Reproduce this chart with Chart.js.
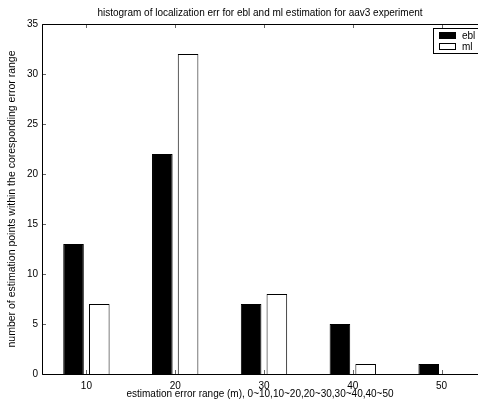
<!DOCTYPE html>
<html>
<head>
<meta charset="utf-8">
<script src="https://cdn.jsdelivr.net/npm/chart.js@4"></script>
<style>
  body { margin: 0; overflow: hidden; background: #fff; }
</style>
</head>
<body>
<canvas id="histChart" width="478" height="400"></canvas>
<script>
const errorRanges = [10, 20, 30, 40, 50];
const eblCounts = [13, 22, 7, 5, 1];
const mlCounts = [7, 32, 8, 1, 0];
const yTicks = [0, 5, 10, 15, 20, 25, 30, 35];
// x limits: the plot starts at 5, its right part is cut off by the window
const xMin = 5;
const xMax = 54.1;

const FONT = "'Liberation Sans', Arial, sans-serif";

// matlab style axes lines, inward ticks and legend
const axesBox = {
  id: "axesBox",
  afterDatasetsDraw(chart) {
    const { ctx, chartArea: a, scales } = chart;
    ctx.save();
    ctx.strokeStyle = "#666";
    ctx.lineWidth = 1;
    ctx.beginPath();
    errorRanges.forEach(v => {
      const x = Math.round(scales.x.getPixelForValue(v)) + 0.5;
      ctx.moveTo(x, a.bottom);
      ctx.lineTo(x, a.bottom - 4);
      ctx.moveTo(x, a.top);
      ctx.lineTo(x, a.top + 4);
    });
    yTicks.forEach(v => {
      const y = Math.round(scales.y.getPixelForValue(v)) + 0.5;
      ctx.moveTo(a.left, y);
      ctx.lineTo(a.left + 4, y);
    });
    ctx.stroke();

    ctx.strokeStyle = "#000";
    ctx.beginPath();
    ctx.moveTo(a.right + 10, a.top + 0.5);
    ctx.lineTo(a.left + 0.5, a.top + 0.5);
    ctx.lineTo(a.left + 0.5, a.bottom + 0.5);
    ctx.lineTo(a.right + 10, a.bottom + 0.5);
    ctx.stroke();

    // legend
    const lx = 433, ly = 28;
    ctx.fillStyle = "#fff";
    ctx.fillRect(lx + 0.5, ly + 0.5, 60, 25);
    ctx.strokeRect(lx + 0.5, ly + 0.5, 60, 25);
    ctx.fillStyle = "#000";
    ctx.fillRect(439, 32, 17, 7);
    ctx.strokeRect(439.5, 43.5, 16, 6);
    ctx.font = "10px " + FONT;
    ctx.textBaseline = "middle";
    ctx.fillText("ebl", 462, 36);
    ctx.fillText("ml", 462, 47);
    ctx.restore();
  }
};

new Chart(document.getElementById("histChart"), {
  type: "bar",
  data: {
    datasets: [
      {
        label: "ebl",
        data: errorRanges.map((x, i) => ({ x: x, y: eblCounts[i] })),
        backgroundColor: "#000",
        borderColor: "#000",
        borderWidth: 1,
        categoryPercentage: 0.58,
        barPercentage: 0.8,
      },
      {
        label: "ml",
        data: errorRanges.map((x, i) => ({ x: x, y: mlCounts[i] })),
        backgroundColor: "#fff",
        borderColor: "#000",
        borderWidth: 1,
        categoryPercentage: 0.58,
        barPercentage: 0.8,
      },
    ],
  },
  options: {
    responsive: false,
    animation: false,
    layout: { padding: 0 },
    plugins: {
      legend: { display: false },
      tooltip: { enabled: false },
      title: {
        display: true,
        fullSize: false,
        text: "histogram of localization err for ebl and ml estimation for aav3 experiment",
        color: "#000",
        font: { family: FONT, size: 10, weight: "normal" },
        padding: { top: 7, bottom: 5 },
      },
    },
    scales: {
      x: {
        type: "linear",
        min: xMin,
        max: xMax,
        offset: false,
        afterBuildTicks(scale) { scale.ticks = errorRanges.map(v => ({ value: v })); },
        grid: { display: false, drawTicks: false },
        border: { display: false },
        ticks: { color: "#000", padding: 6, font: { family: FONT, size: 10 } },
        title: {
          display: true,
          text: "estimation error range (m), 0~10,10~20,20~30,30~40,40~50",
          color: "#000",
          font: { family: FONT, size: 10 },
          padding: 0,
        },
        afterFit(scale) { scale.height = 26; },
      },
      y: {
        min: 0,
        max: 35,
        afterBuildTicks(scale) { scale.ticks = yTicks.map(v => ({ value: v })); },
        grid: { display: false, drawTicks: false },
        border: { display: false },
        ticks: { color: "#000", padding: 4, font: { family: FONT, size: 10 } },
        title: {
          display: true,
          text: "number of estimation points within the coresponding error range",
          color: "#000",
          font: { family: FONT, size: 10.5 },
          padding: { top: 6, bottom: 0 },
        },
        afterFit(scale) { scale.width = 42; },
      },
    },
  },
  plugins: [axesBox],
});
</script>
</body>
</html>
